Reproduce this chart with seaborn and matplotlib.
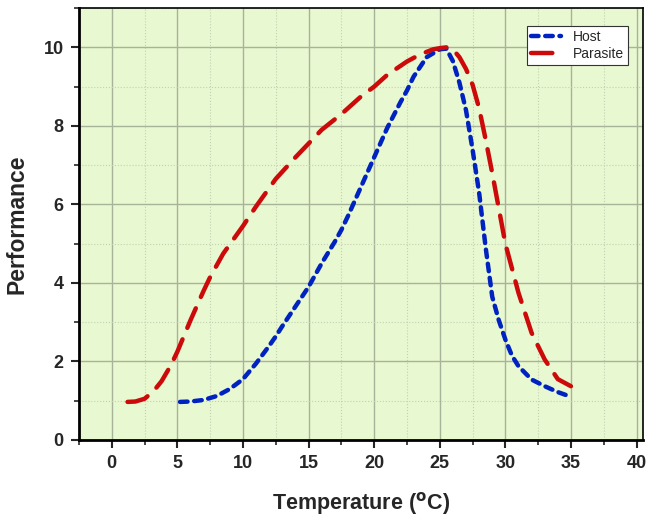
import matplotlib
matplotlib.use("Agg")
import matplotlib.pyplot as plt
import seaborn as sns
import pandas as pd
from matplotlib.ticker import MultipleLocator

host_temp = [5.2, 6.0, 7.0, 8.0, 9.0, 10.0, 11.0, 12.0, 12.5, 13.0, 14.0, 15.0, 16.0, 17.0, 17.5, 18.0,
             19.0, 20.0, 21.0, 22.0, 22.5, 23.0, 24.0, 25.0, 25.5, 26.0, 26.5, 27.0, 27.5, 28.0,
             28.5, 29.0, 29.5, 30.0, 30.5, 31.0, 32.0, 33.0, 34.0, 35.0]
host_perf = [0.97, 0.98, 1.02, 1.12, 1.3, 1.55, 1.95, 2.4, 2.64, 2.9, 3.4, 3.9, 4.5, 5.05, 5.35, 5.7,
             6.45, 7.2, 7.95, 8.6, 8.9, 9.25, 9.75, 9.95, 9.97, 9.65, 9.1, 8.4, 7.4, 6.3,
             4.9, 3.65, 3.05, 2.56, 2.15, 1.88, 1.54, 1.37, 1.22, 1.1]

para_temp = [1.2, 1.8, 2.5, 3.2, 3.8, 4.5, 5.0, 6.0, 7.0, 7.5, 8.5, 10.0, 11.0, 12.5, 14.0, 15.0,
             16.0, 17.5, 19.0, 20.0, 21.0, 22.5, 23.5, 24.5, 25.0, 25.5, 26.0, 26.5, 27.0, 27.5,
             28.0, 28.5, 29.0, 29.5, 30.0, 31.0, 32.0, 33.0, 34.0, 35.0]
para_perf = [0.97, 0.98, 1.05, 1.25, 1.5, 1.9, 2.25, 3.05, 3.8, 4.15, 4.75, 5.45, 5.95, 6.65, 7.2, 7.55,
             7.9, 8.3, 8.75, 9.0, 9.3, 9.64, 9.82, 9.95, 9.98, 10.0, 9.95, 9.75, 9.45, 9.05,
             8.45, 7.65, 6.8, 5.9, 5.0, 3.75, 2.73, 2.05, 1.55, 1.37]

x_ticks = [0, 5, 10, 15, 20, 25, 30, 35, 40]
y_ticks = [0, 2, 4, 6, 8, 10]

host_df = pd.DataFrame({"Temperature": host_temp, "Performance": host_perf})
para_df = pd.DataFrame({"Temperature": para_temp, "Performance": para_perf})

sns.set_style("white")
plt.rcParams['font.family'] = ['Liberation Sans', 'DejaVu Sans']

fig = plt.figure(figsize=(6.66, 5.16), dpi=100)
ax = fig.add_axes([0.1186, 0.1473, 0.847, 0.837])
ax.set_facecolor("#e8f8d0")

sns.lineplot(data=host_df, x="Temperature", y="Performance", ax=ax, color="#0022c0",
             linewidth=3.2, label="Host", sort=False)
sns.lineplot(data=para_df, x="Temperature", y="Performance", ax=ax, color="#cc0a0a",
             linewidth=3.2, label="Parasite", sort=False)
ax.lines[0].set_dashes([1.7, 1.5])
ax.lines[1].set_dashes([4.8, 2.8])
for ln in ax.lines[:2]:
    ln.set_dash_capstyle("round")

ax.set_xlim(-2.5, 40.5)
ax.set_ylim(0, 11)
ax.set_xticks(x_ticks)
ax.set_yticks(y_ticks)
ax.xaxis.set_minor_locator(MultipleLocator(2.5))
ax.yaxis.set_minor_locator(MultipleLocator(1))
ax.grid(which="major", color="#a8b49a", linewidth=1.0, linestyle="-")
ax.grid(which="minor", color="#c4d0b4", linewidth=0.8, linestyle=":")
ax.set_axisbelow(True)

for side in ["left", "bottom"]:
    ax.spines[side].set_linewidth(2.0)
    ax.spines[side].set_color("black")
for side in ["top", "right"]:
    ax.spines[side].set_linewidth(1.2)
    ax.spines[side].set_color("black")

ax.tick_params(which="major", direction="out", length=6, width=1.5, labelsize=13,
               bottom=True, left=True, top=False, right=False, pad=5)
ax.tick_params(which="minor", direction="out", length=3.5, width=1.2,
               bottom=True, left=True, top=False, right=False)
for lbl in ax.get_xticklabels() + ax.get_yticklabels():
    lbl.set_fontweight("bold")

ax.set_xlabel(r"Temperature ($\mathbf{^{o}}$C)", fontsize=15.5, fontweight="bold", labelpad=13)
ax.set_ylabel("Performance", fontsize=16.5, fontweight="bold", labelpad=11)

leg = ax.legend(loc="upper right", bbox_to_anchor=(0.985, 0.975), fontsize=10, frameon=True,
                fancybox=False, edgecolor="#333333", framealpha=1, handlelength=2.2,
                borderpad=0.3, labelspacing=0.2, handletextpad=0.8)
leg.get_frame().set_linewidth(0.8)

fig.savefig("out.png", dpi=100)
